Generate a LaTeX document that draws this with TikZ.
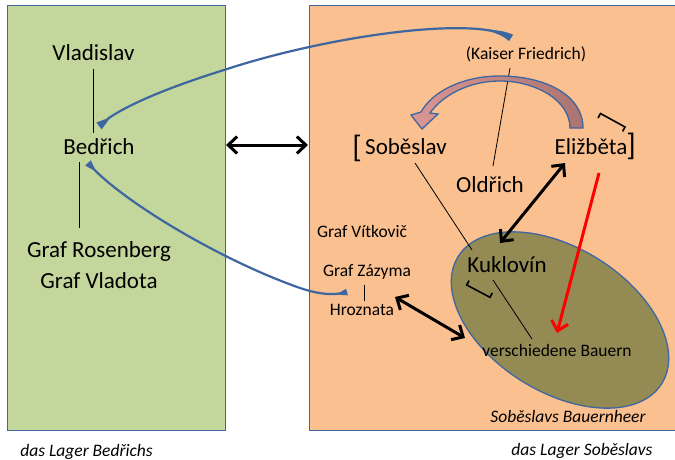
\documentclass[tikz,border=0pt]{standalone}
\usepackage{fontspec}
\setmainfont{Carlito}
\usetikzlibrary{arrows.meta,bending,shapes.geometric}
\definecolor{campgreen}{RGB}{195,214,155}
\definecolor{camporange}{RGB}{250,192,144}
\definecolor{frameblue}{RGB}{62,102,160}
\definecolor{armyolive}{RGB}{148,138,84}
\definecolor{arrowpink}{RGB}{218,150,148}
\definecolor{arrowbrown}{RGB}{170,116,112}
\begin{document}
\begin{tikzpicture}[x=1pt,y=-1pt,
  big/.style={font=\fontsize{23}{27}\selectfont, inner sep=0pt, anchor=base},
  small/.style={font=\fontsize{17.5}{21}\selectfont, inner sep=0pt, anchor=base},
  caption/.style={font=\fontsize{17.5}{21}\selectfont\itshape, inner sep=0pt, anchor=base},
  brk/.style={font=\fontsize{31}{35}\selectfont, inner sep=0pt, anchor=base},
  camp/.style={draw=frameblue, line width=1.3pt, anchor=north west, minimum height=425pt, inner sep=0pt},
  tree/.style={line width=0.8pt},
  link/.style={frameblue, line width=2.2pt},
  tiltbracket/.style={line width=1.6pt},
  dbl/.style={line width=3pt, {Straight Barb[length=9pt,width=17pt]}-{Straight Barb[length=9pt,width=17pt]}},
  single/.style={line width=3pt, -{Straight Barb[length=9pt,width=17pt]}},
]
\useasboundingbox (0,0) rectangle (675,459);
\clip (0,0) rectangle (675,459);
\fill[white] (0,0) rectangle (675,459);

% the two camps
\node[camp, fill=campgreen, minimum width=218pt] (campB) at (7,5) {};
\node[camp, fill=camporange, minimum width=380pt] (campS) at (309,5) {};

% the peasant army
\node[ellipse, draw=frameblue, line width=1.3pt, fill=armyolive,
      minimum width=240pt, minimum height=144pt, rotate=-32] (army) at (560,320) {};

% Bedřich's camp
\node[big] (vlad) at (93.5,60) {Vladislav};
\node[big] (bed) at (99,154) {Bedřich};
\node[big] (ros) at (99,257) {Graf Rosenberg};
\node[big] (vlat) at (99,288) {Graf Vladota};
\node[caption] (lagerB) at (86.5,456) {das Lager Bedřichs};

% Soběslav's camp
\node[small] (kaiser) at (526,59) {(Kaiser Friedrich)};
\node[big] (sob) at (406,154) {Soběslav};
\node[brk] (sobBr) at (357,157) {[};
\node[big] (eli) at (591,154) {Eližběta};
\node[brk] (eliBr) at (631,155) {]};
\node[big] (old) at (490,192) {Oldřich};
\node[small] (vit) at (362,237) {Graf Vítkovič};
\node[small] (zaz) at (367,276) {Graf Zázyma};
\node[small] (hroz) at (362,315) {Hroznata};
\node[big] (kuk) at (507,272) {Kuklovín};
\node[small] (bauern) at (557,356) {verschiedene Bauern};
\node[caption] (heer) at (568,422) {Soběslavs Bauernheer};
\node[caption] (lagerS) at (582,455) {das Lager Soběslavs};

% line ends
\coordinate (vladFoot) at (93,69);   \coordinate (bedHead) at (93,133);
\coordinate (bedFoot) at (79,162);   \coordinate (rosHead) at (79,228);
\coordinate (kaiserFoot) at (510,68); \coordinate (oldHead) at (493,166);
\coordinate (sobFoot) at (415,163);  \coordinate (kukHead) at (472,250);
\coordinate (zazFoot) at (364,285);  \coordinate (hrozHead) at (364,301);
\coordinate (kukFoot) at (493,280);  \coordinate (bauernHead) at (532,339);

% family lines
\draw[tree] (vladFoot) -- (bedHead);
\draw[tree] (bedFoot) -- (rosHead);
\draw[tree] (kaiserFoot) -- (oldHead);
\draw[tree] (sobFoot) -- (kukHead);
\draw[tree] (zazFoot) -- (hrozHead);
\draw[tree] (kukFoot) -- (bauernHead);

% tilted brackets
\draw[tiltbracket] (598,118) -- (600.5,113.5) -- (625,127) -- (622.6,131.4);
\draw[tiltbracket] (469,280.6) -- (466.7,285) -- (490,297.3) -- (492.3,292.9);

% curved block arrow from Eližběta over to Soběslav
\path[draw=frameblue, line width=1.3pt, left color=arrowpink, right color=arrowbrown]
  (583,128) .. controls (583,95) and (545,76) .. (500,76)
  .. controls (462,76) and (432,92) .. (421,112)
  -- (411,115) -- (422,129) -- (438,114) -- (430,113)
  .. controls (442,96) and (468,81) .. (500,81)
  .. controls (535,81) and (570,100) .. (570,128) -- cycle;

% blue links between the camps
\coordinate (kaiserTop) at (511,38);
\coordinate (bedTop) at (99,126);
\coordinate (bedLow) at (88,163);
\coordinate (zazSide) at (347,292);
\draw[link, {Triangle[reversed,length=24pt,width=7pt,bend]}-{Triangle[reversed,length=15pt,width=8pt]}]
  (kaiserTop) .. controls (480,15) and (330,35) .. (224,70)
  .. controls (160,90) and (115,110) .. (bedTop);
\draw[link, {Triangle[reversed,length=12pt,width=7pt]}-{Triangle[reversed,length=12pt,width=6pt,bend]}]
  (bedLow) .. controls (120,200) and (220,260) .. (300,288)
  .. controls (318,294) and (333,296) .. (zazSide);

% black and red arrows
\coordinate (gapL) at (226,145);   \coordinate (gapR) at (308,145);
\coordinate (eliLow) at (565,163); \coordinate (kukTop) at (500,243);
\coordinate (hrozSide) at (395,297); \coordinate (armyRim) at (465,338);
\coordinate (eliRed) at (599,173); \coordinate (armyIn) at (557,333);
\draw[dbl] (gapL) -- (gapR);
\draw[dbl] (eliLow) -- (kukTop);
\draw[dbl] (hrozSide) -- (armyRim);
\draw[single, red] (eliRed) -- (armyIn);
\end{tikzpicture}
\end{document}
